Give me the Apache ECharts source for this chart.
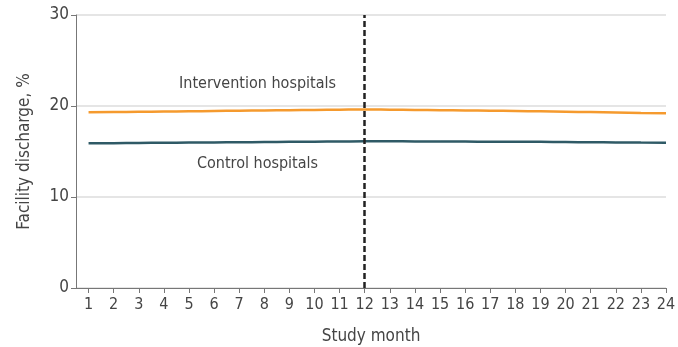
<!DOCTYPE html>
<html><head><meta charset="utf-8">
<script src="https://cdn.jsdelivr.net/npm/echarts@6/dist/echarts.min.js"></script>
<style>html,body{margin:0;padding:0;background:#fff}#c{width:678px;height:347px}</style>
</head><body><div id="c"></div>
<script>
var months = [1,2,3,4,5,6,7,8,9,10,11,12,13,14,15,16,17,18,19,20,21,22,23,24];
var intervention = [19.30,19.33,19.36,19.39,19.42,19.45,19.48,19.51,19.54,19.57,19.60,19.62,19.60,19.57,19.54,19.51,19.48,19.45,19.41,19.37,19.33,19.29,19.24,19.20];
var control = [15.90,15.92,15.94,15.96,15.98,16.00,16.02,16.04,16.06,16.08,16.10,16.12,16.12,16.11,16.10,16.09,16.08,16.07,16.06,16.04,16.02,16.00,15.98,15.96];
var yTicks = [0,10,20,30];
var interventionMonth = 12;
var labels = [{text:'Intervention hospitals', x:7.73, y:22.4},{text:'Control hospitals', x:7.73, y:13.6}];

var FONT = '"Liberation Sans Narrow","DejaVu Sans Condensed","Roboto",sans-serif';
var TXT = '#454545';
var chart = echarts.init(document.getElementById('c'), null, {renderer:'canvas'});
function pairs(arr){ return months.map(function(m,i){ return [m, arr[i]]; }); }
chart.setOption({
  animation:false,
  grid:{left:76, right:12, top:15, bottom:59, containLabel:false, outerBoundsMode:'none'},
  xAxis:{type:'value', min:0.5, max:24,
    name:'Study month', nameLocation:'middle', nameGap:40,
    nameTextStyle:{fontFamily:FONT, fontSize:17, color:TXT},
    axisLine:{show:true, lineStyle:{color:'#777', width:1}},
    axisTick:{show:true, length:5, customValues:months, lineStyle:{color:'#777'}},
    axisLabel:{customValues:months, fontFamily:FONT, fontSize:16, color:TXT, margin:9},
    splitLine:{show:false}},
  yAxis:{type:'value', min:0, max:30, interval:10,
    name:'Facility discharge, %', nameLocation:'middle', nameGap:43,
    nameTextStyle:{fontFamily:FONT, fontSize:17, color:TXT},
    axisLine:{show:true, lineStyle:{color:'#777', width:1}},
    axisTick:{show:true, length:5, lineStyle:{color:'#777'}},
    axisLabel:{fontFamily:FONT, fontSize:17, color:TXT, margin:7},
    splitLine:{show:true, lineStyle:{color:'#dcdcdc', width:1.5}}},
  series:[
    {type:'line', name:'Intervention hospitals', data:pairs(intervention), showSymbol:false, smooth:true,
     lineStyle:{color:'#F59A2E', width:2.5}, itemStyle:{color:'#F59A2E'},
     markLine:{silent:true, symbol:['none','none'], label:{show:false},
       lineStyle:{color:'#222', type:[6,3], width:2.5},
       data:[{xAxis:interventionMonth}]}},
    {type:'line', name:'Control hospitals', data:pairs(control), showSymbol:false, smooth:true,
     lineStyle:{color:'#2F5A66', width:2.5}, itemStyle:{color:'#2F5A66'}}
  ]
});
var g = labels.map(function(l){
  var p = chart.convertToPixel({gridIndex:0}, [l.x, l.y]);
  return {type:'text', x:p[0], y:p[1], style:{text:l.text, fontFamily:FONT, fontSize:16, fill:TXT, align:'center', verticalAlign:'middle'}};
});
chart.setOption({graphic:g});
</script></body></html>
